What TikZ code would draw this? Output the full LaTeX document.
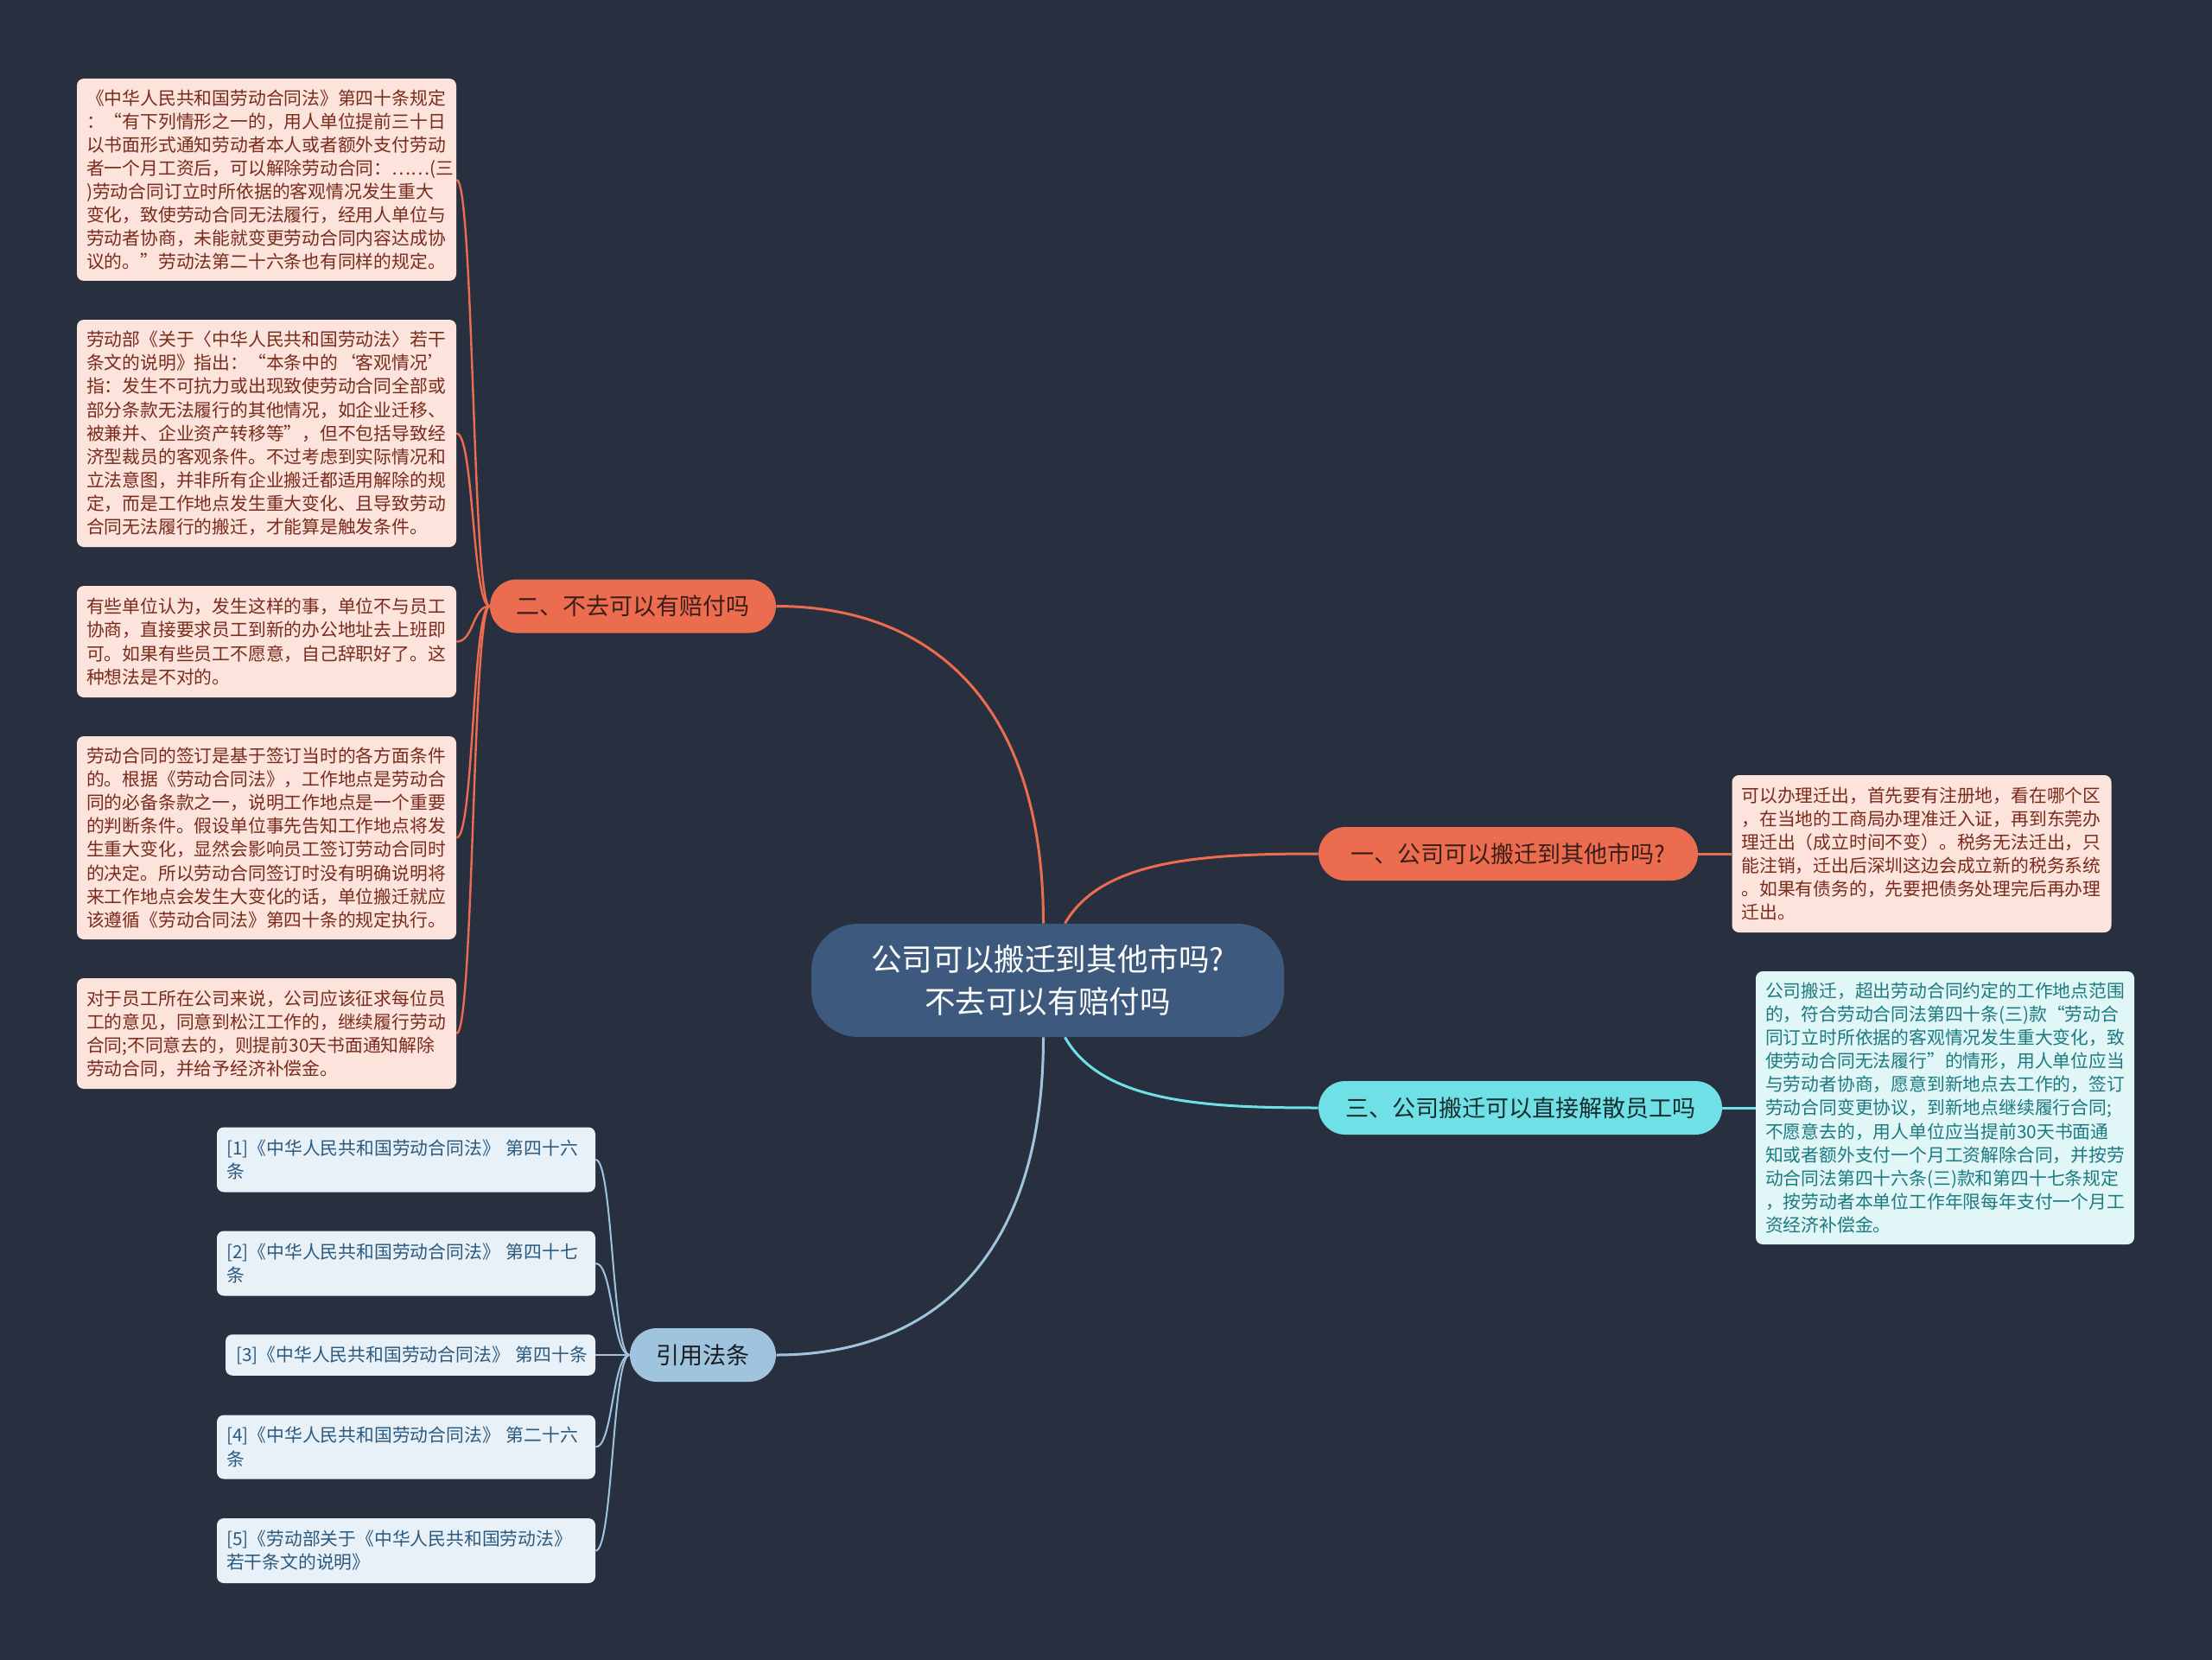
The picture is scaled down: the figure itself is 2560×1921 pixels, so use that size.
\documentclass[tikz,border=0pt]{standalone}
\usepackage{fontspec}
\setmainfont{Noto Sans CJK SC}
\usetikzlibrary{calc}
\definecolor{bg}{HTML}{283040}
\definecolor{orangec}{HTML}{EC6C4F}
\definecolor{cyanc}{HTML}{6EE0E6}
\definecolor{lblue}{HTML}{A0C4DE}
\definecolor{centerc}{HTML}{3D5A7E}
\definecolor{pinkfill}{HTML}{FCE4DD}
\definecolor{pinktext}{HTML}{7A2B1C}
\definecolor{cyanfill}{HTML}{E0F6F7}
\definecolor{cyantext}{HTML}{1C7A80}
\definecolor{reffill}{HTML}{E9F1F8}
\definecolor{reftext}{HTML}{2B5A80}
\definecolor{darktext}{HTML}{3A1E18}
\tikzset{
  textbox/.style={rounded corners=4pt, inner xsep=5.5pt, inner ysep=0pt, align=left,
    font=\fontsize{10.4}{13.55}\selectfont},
  pinkbox/.style={textbox, fill=pinkfill, text=pinktext, text width=208.5pt},
  cyanbox/.style={textbox, fill=cyanfill, text=cyantext, text width=208pt},
  refbox/.style={textbox, fill=reffill, text=reftext, text width=208pt},
  branchnode/.style={rounded corners=15.5pt, minimum height=31pt, inner sep=0pt,
    font=\fontsize{13.5}{16}\selectfont},
  orangeline/.style={draw=orangec, line width=1.5pt},
  orangethin/.style={draw=orangec, line width=1.2pt},
  cyanline/.style={draw=cyanc, line width=1.5pt},
  blueline/.style={draw=lblue, line width=1.5pt},
  bluethin/.style={draw=lblue, line width=1pt},
}
\begin{document}
\begin{tikzpicture}[x=0.5pt,y=-0.5pt]
\fill[bg] (0,0) rectangle (2560,1921);
\useasboundingbox (0,0) rectangle (2560,1921);

% center
\node[fill=centerc, text=white, rounded corners=27pt, minimum width=273.5pt, minimum height=65.5pt,
  inner sep=0pt, align=center, font=\fontsize{17.8}{24.5}\selectfont] (C) at (1212.5,1134.5)
  {公司可以搬迁到其他市吗?\\不去可以有赔付吗};

% branches
\node[branchnode, fill=orangec, text=darktext, minimum width=219.5pt] (n1) at (1745.5,988) {一、公司可以搬迁到其他市吗?};
\node[branchnode, fill=orangec, text=darktext, minimum width=165.5pt] (n2) at (732.5,701.5) {二、不去可以有赔付吗};
\node[branchnode, fill=cyanc, text=black!80!cyanc, minimum width=233.5pt] (n3) at (1759.5,1282) {三、公司搬迁可以直接解散员工吗};
\node[branchnode, fill=lblue, text=black!85!lblue, minimum width=84.5pt] (n4) at (813.5,1568) {引用法条};

% left pink boxes
\node[pinkbox, minimum height=117pt] (L1) at (308.5,208) {《中华人民共和国劳动合同法》第四十条规定\\：“有下列情形之一的，用人单位提前三十日\\以书面形式通知劳动者本人或者额外支付劳动\\者一个月工资后，可以解除劳动合同：……(三\\)劳动合同订立时所依据的客观情况发生重大\\变化，致使劳动合同无法履行，经用人单位与\\劳动者协商，未能就变更劳动合同内容达成协\\议的。”劳动法第二十六条也有同样的规定。};
\node[pinkbox, minimum height=131.5pt] (L2) at (308.5,501.5) {劳动部《关于〈中华人民共和国劳动法〉若干\\条文的说明》指出：“本条中的‘客观情况’\\指：发生不可抗力或出现致使劳动合同全部或\\部分条款无法履行的其他情况，如企业迁移、\\被兼并、企业资产转移等”，但不包括导致经\\济型裁员的客观条件。不过考虑到实际情况和\\立法意图，并非所有企业搬迁都适用解除的规\\定，而是工作地点发生重大变化、且导致劳动\\合同无法履行的搬迁，才能算是触发条件。};
\node[pinkbox, minimum height=64.5pt] (L3) at (308.5,742.5) {有些单位认为，发生这样的事，单位不与员工\\协商，直接要求员工到新的办公地址去上班即\\可。如果有些员工不愿意，自己辞职好了。这\\种想法是不对的。};
\node[pinkbox, minimum height=117.5pt] (L4) at (308.5,969.5) {劳动合同的签订是基于签订当时的各方面条件\\的。根据《劳动合同法》，工作地点是劳动合\\同的必备条款之一，说明工作地点是一个重要\\的判断条件。假设单位事先告知工作地点将发\\生重大变化，显然会影响员工签订劳动合同时\\的决定。所以劳动合同签订时没有明确说明将\\来工作地点会发生大变化的话，单位搬迁就应\\该遵循《劳动合同法》第四十条的规定执行。};
\node[pinkbox, minimum height=64pt] (L5) at (308.5,1196) {对于员工所在公司来说，公司应该征求每位员\\工的意见，同意到松江工作的，继续履行劳动\\合同;不同意去的，则提前30天书面通知解除\\劳动合同，并给予经济补偿金。};

% right boxes
\node[pinkbox, minimum height=91pt] (R1) at (2224,988) {可以办理迁出，首先要有注册地，看在哪个区\\，在当地的工商局办理准迁入证，再到东莞办\\理迁出（成立时间不变）。税务无法迁出，只\\能注销，迁出后深圳这边会成立新的税务系统\\。如果有债务的，先要把债务处理完后再办理\\迁出。};
\node[cyanbox, minimum height=158pt] (R3) at (2251,1282) {公司搬迁，超出劳动合同约定的工作地点范围\\的，符合劳动合同法第四十条(三)款“劳动合\\同订立时所依据的客观情况发生重大变化，致\\使劳动合同无法履行”的情形，用人单位应当\\与劳动者协商，愿意到新地点去工作的，签订\\劳动合同变更协议，到新地点继续履行合同;\\不愿意去的，用人单位应当提前30天书面通\\知或者额外支付一个月工资解除合同，并按劳\\动合同法第四十六条(三)款和第四十七条规定\\，按劳动者本单位工作年限每年支付一个月工\\资经济补偿金。};

% reference boxes
\node[refbox, minimum height=37.5pt] (F1) at (470,1342) {[1]《中华人民共和国劳动合同法》~第四十六\\条};
\node[refbox, minimum height=37.5pt] (F2) at (470,1462) {[2]《中华人民共和国劳动合同法》~第四十七\\条};
\node[refbox, text width=202pt, inner xsep=6pt, minimum height=23.75pt] (F3) at (475,1568) {\mbox{[3]《中华人民共和国劳动合同法》~第四十条}};
\node[refbox, minimum height=37pt] (F4) at (470,1674.5) {[4]《中华人民共和国劳动合同法》~第二十六\\条};
\node[refbox, minimum height=37.5pt] (F5) at (470,1794.5) {[5]《劳动部关于《中华人民共和国劳动法》\\若干条文的说明》};

% center connectors
\draw[orangeline] ($(C.north)+(-5,0)$) .. controls (1207.5,810) and (1075,701.5) .. (n2.east);
\draw[orangeline] ($(C.north)+(20,0)$) .. controls (1275,995) and (1390,988) .. (n1.west);
\draw[cyanline] ($(C.south)+(20,0)$) .. controls (1275,1275) and (1390,1282) .. (n3.west);
\draw[blueline] ($(C.south)+(-5,0)$) .. controls (1207.5,1460) and (1075,1568) .. (n4.east);

% branch to right boxes
\draw[orangeline] (n1.east) -- (R1.west);
\draw[cyanline] (n3.east) -- (R3.west);

% branch two to left boxes
\foreach \b in {L1,L2,L3,L4,L5}
  \draw[orangethin] (n2.west) .. controls +(-20,0) and +(20,0) .. (\b.east);
% references
\foreach \b in {F1,F2,F3,F4,F5}
  \draw[bluethin] (n4.west) .. controls +(-20,0) and +(20,0) .. (\b.east);
\end{tikzpicture}
\end{document}
